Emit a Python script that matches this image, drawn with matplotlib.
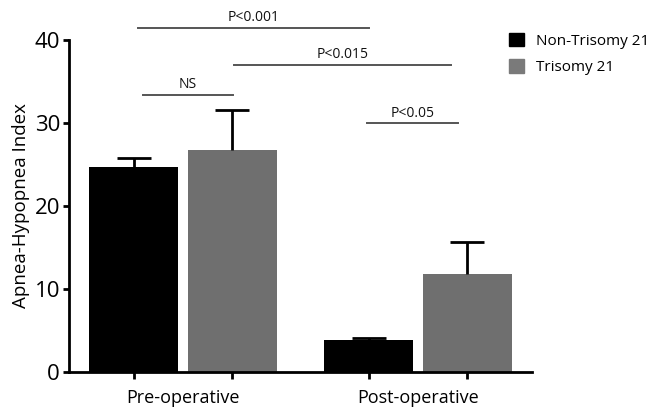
import matplotlib.pyplot as plt
import numpy as np

plt.rcParams['font.family'] = ['Open Sans', 'DejaVu Sans']

# values (mean and upper error)
groups = ["Pre-operative", "Post-operative"]
series = ["Non-Trisomy 21", "Trisomy 21"]
non_t21 = [24.7, 3.8]
non_t21_err = [1.1, 0.25]
t21 = [26.8, 11.8]
t21_err = [4.8, 3.9]
sig_labels = ["P<0.001", "P<0.015", "NS", "P<0.05"]

fig = plt.figure(figsize=(6.54, 4.07), dpi=100)
ax = fig.add_axes([69/654, 1-372/407, (532-69)/654, (372-40)/407])

x = np.arange(len(groups))
w = 0.38
off = 0.21
black = "#000000"
grey = "#6f6f6f"

ax.bar(x - off, non_t21, w, color=black, zorder=2)
ax.bar(x + off, t21, w, color=grey, zorder=2)
# one-sided error bars, GraphPad style (hide the lower cap)
for xs, vals, errs in [(x - off, non_t21, non_t21_err), (x + off, t21, t21_err)]:
    eb = ax.errorbar(xs, vals, yerr=[np.zeros(2), errs], fmt='none',
                     ecolor=black, elinewidth=2, capsize=12, capthick=2, zorder=3)
    eb[1][0].set_visible(False)

ax.set_xlim(-0.485, 1.485)
ax.set_ylim(0, 40)
ax.set_yticks([0, 10, 20, 30, 40])
ax.tick_params(axis='y', labelsize=16, width=2, length=4.5, pad=2)
ax.set_xticks(x)
ax.set_xticklabels(groups, fontsize=13)
ax.tick_params(axis='x', which='major', length=0, pad=12.5)
ax.set_xticks(np.concatenate([x - off, x + off]), minor=True)
ax.tick_params(axis='x', which='minor', length=5, width=2)
for s in ['top', 'right']:
    ax.spines[s].set_visible(False)
for s in ['left', 'bottom']:
    ax.spines[s].set_linewidth(2)
ax.set_ylabel("Apnea-Hypopnea Index", fontsize=13.5, labelpad=3)

# significance brackets (x in data units, y in data units)
spans = [(-0.191, 0.791, 41.45), (0.217, 1.140, 37.0),
         (-0.170, 0.213, 33.4), (0.783, 1.170, 29.95)]
for lab, (x0, x1, yy) in zip(sig_labels, spans):
    ax.plot([x0, x1], [yy, yy], color="#555555", lw=1.4, clip_on=False)
    ax.text((x0 + x1) / 2, yy + 0.3, lab, ha='center', va='bottom',
            fontsize=10, color="#111111", clip_on=False)

handles = [plt.Rectangle((0, 0), 1, 1, color=black),
           plt.Rectangle((0, 0), 1, 1, color="#7a7a7a")]
fig.legend(handles, series, loc='upper left', bbox_to_anchor=(501/654, 1-25/407),
           frameon=False, fontsize=11, handlelength=1.0, handleheight=1.0,
           handletextpad=0.8, labelspacing=0.7, borderpad=0)

fig.savefig("out.png", dpi=100)
